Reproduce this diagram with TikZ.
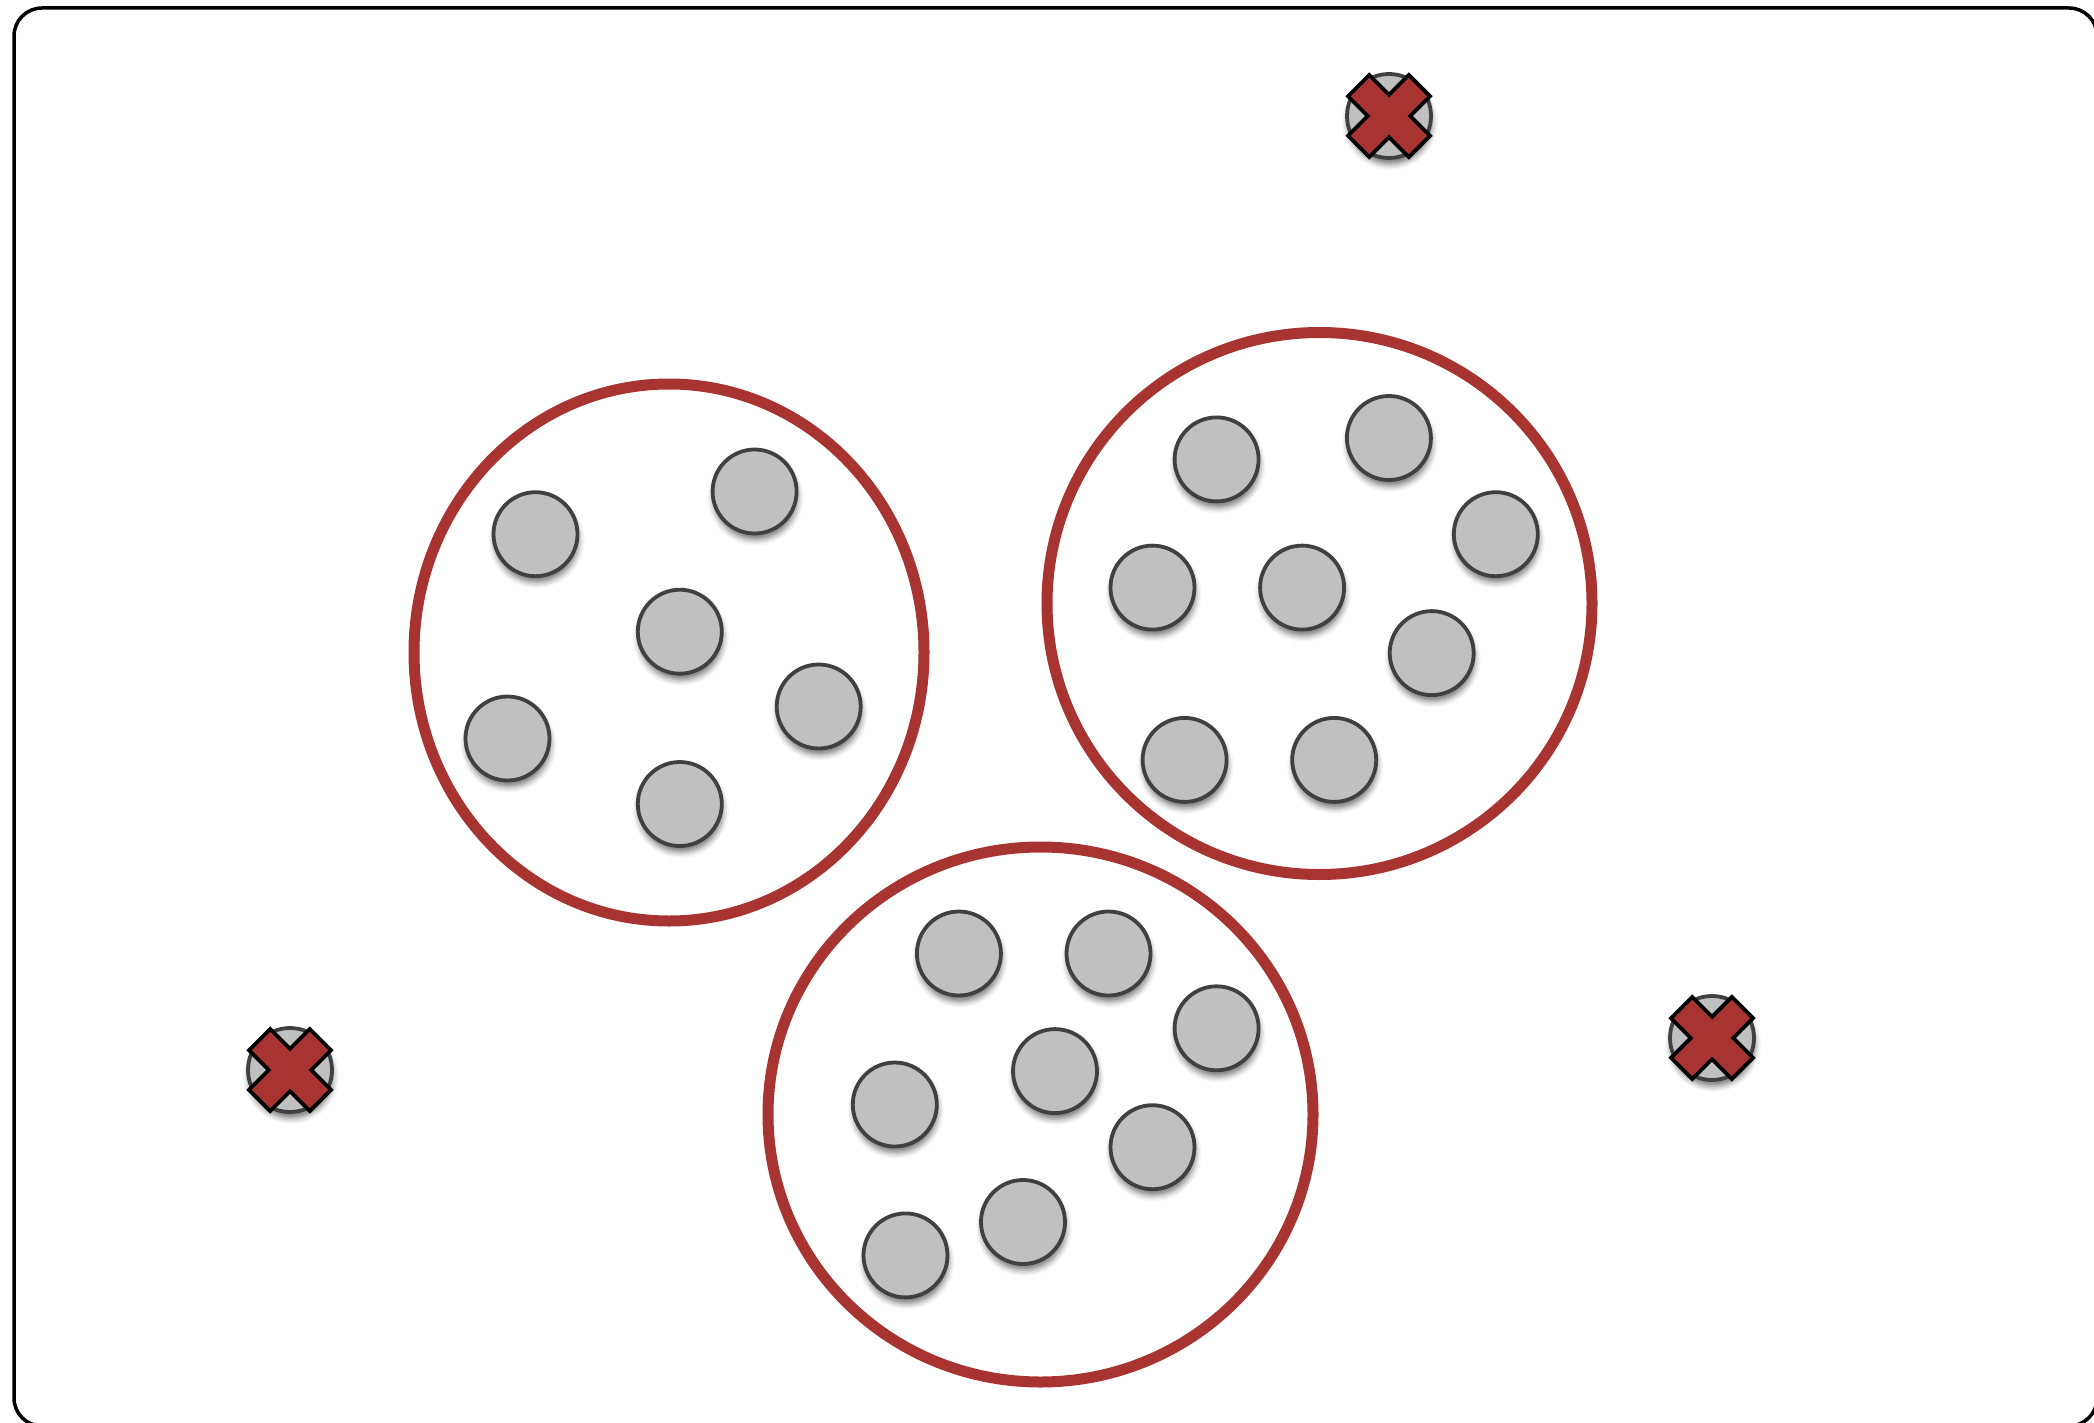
\documentclass[tikz,border=0pt]{standalone}
\usetikzlibrary{shapes.geometric,shadows.blur}
\definecolor{ringred}{RGB}{168,52,50}
\definecolor{dotgray}{RGB}{192,192,192}
\definecolor{dotedge}{RGB}{64,64,64}
\tikzset{
  dot/.style={circle, draw=dotedge, fill=dotgray, line width=3.8pt, minimum size=84pt, inner sep=0pt,
    blur shadow={shadow xshift=1pt, shadow yshift=-6pt, shadow blur radius=6pt, shadow opacity=55}},
  ring/.style={ellipse, draw=ringred, line width=11pt, inner sep=0pt},
  frame/.style={draw=black, line width=3.5pt, rounded corners=28pt},
  cross/.style={fill=ringred, draw=black, line width=3.8pt, line join=miter}
}
\newcommand{\xmark}[1]{%
  \path[cross, shift={(#1)}, rotate=45]
    (43,15) -- (15,15) -- (15,43) -- (-15,43) -- (-15,15) -- (-43,15)
    -- (-43,-15) -- (-15,-15) -- (-15,-43) -- (15,-43) -- (15,-15) -- (43,-15) -- cycle;}
\begin{document}
\begin{tikzpicture}[x=1pt,y=-1pt]
\useasboundingbox (0,0) rectangle (2094,1423);
\draw[frame] (14,8) rectangle (2097,1426);
% rings
\node[ring, minimum width=510pt, minimum height=537pt] (r1) at (669,652.5) {};
\node[ring, minimum width=545pt, minimum height=542pt] (r2) at (1319.5,603.5) {};
\node[ring, minimum width=545pt, minimum height=535pt] (r3) at (1040.5,1114.5) {};
% group 1
\node[dot] (a1) at (535.5,534.2) {};
\node[dot] (a2) at (754.6,491.5) {};
\node[dot] (a3) at (679.8,631.7) {};
\node[dot] (a4) at (818.7,706.5) {};
\node[dot] (a5) at (507.5,738.5) {};
\node[dot] (a6) at (679.8,804.0) {};
% group 2
\node[dot] (b1) at (1216.6,459.4) {};
\node[dot] (b2) at (1388.9,438.0) {};
\node[dot] (b3) at (1495.8,534.2) {};
\node[dot] (b4) at (1152.5,587.6) {};
\node[dot] (b5) at (1302.1,587.6) {};
\node[dot] (b6) at (1431.7,653.1) {};
\node[dot] (b7) at (1184.6,759.9) {};
\node[dot] (b8) at (1334.2,759.9) {};
% group 3
\node[dot] (c1) at (958.9,953.5) {};
\node[dot] (c2) at (1108.5,953.5) {};
\node[dot] (c3) at (1216.6,1028.3) {};
\node[dot] (c4) at (894.8,1104.5) {};
\node[dot] (c5) at (1055.0,1071.1) {};
\node[dot] (c6) at (1152.5,1147.2) {};
\node[dot] (c7) at (1023.0,1222.0) {};
\node[dot] (c8) at (905.5,1255.4) {};
% outliers
\node[dot] (o1) at (1389,116) {};
\node[dot] (o2) at (290,1070) {};
\node[dot] (o3) at (1712,1038) {};
\xmark{o1}
\xmark{o2}
\xmark{o3}
\end{tikzpicture}
\end{document}
